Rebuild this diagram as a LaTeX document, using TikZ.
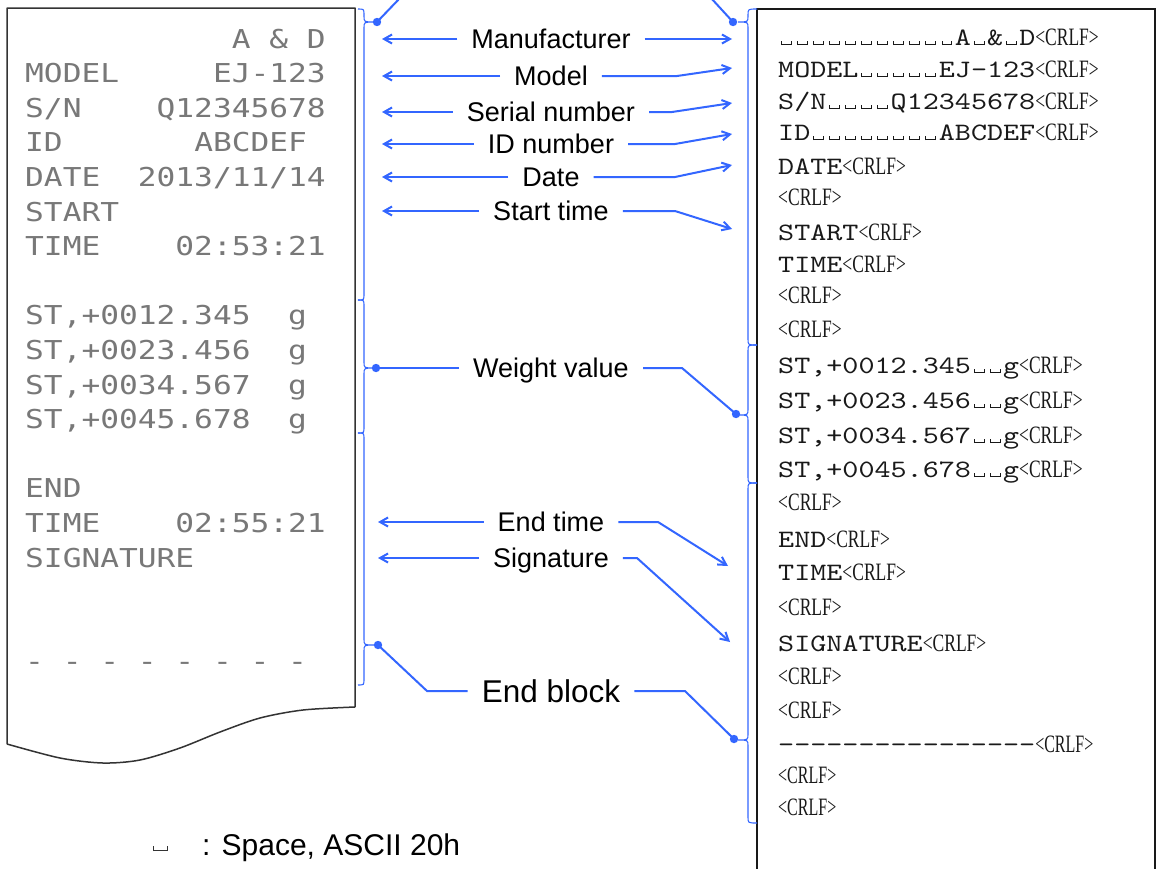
\documentclass[tikz,border=0pt]{standalone}
\usepackage{fontspec}
\setmainfont{Liberation Sans}
\newfontfamily\dotfont[FakeStretch=1.2]{DejaVu Sans Mono}
\newfontfamily\courfont[FakeStretch=1.224]{lmmono10-regular.otf}
\newfontfamily\crlffont[FakeStretch=0.70]{Liberation Serif}
\newfontfamily\crlfnfont[FakeStretch=0.64]{Liberation Serif}
\usetikzlibrary{arrows.meta,calc}
\definecolor{lblue}{RGB}{51,102,255}
\definecolor{papergray}{RGB}{120,120,120}
\definecolor{textdark}{RGB}{25,25,25}
\newcommand\spbox{\makebox[16.07pt][c]{\rule{0.9pt}{4.5pt}\rule{9pt}{0.9pt}\rule{0.9pt}{4.5pt}}}
\newcommand\crlf{{\crlffont\fontsize{25}{25}\selectfont<CRLF>}}
\newcommand\crlfn{{\crlfnfont\fontsize{25}{25}\selectfont<CRLF>}}
\newcommand\cbrace[6]{\draw[bracestyle] (#1,#4) .. controls (#2,#4) .. (#2,{#4+6}) -- (#2,{#5-6}) .. controls (#2,#5) .. (#3,#5) .. controls (#2,#5) .. (#2,{#5+6}) -- (#2,{#6-6}) .. controls (#2,#6) .. (#1,#6);}
\tikzset{
  ptext/.style={anchor=base west, inner sep=0pt, font=\dotfont\fontsize{26}{26}\selectfont, text=papergray},
  rtext/.style={anchor=base west, inner sep=0pt, font=\courfont\fontsize{25}{25}\selectfont, text=textdark},
  lab/.style={font=\fontsize{27}{27}\selectfont, text height=19.4pt, text depth=0pt, inner xsep=14pt, inner ysep=0pt},
  labbig/.style={font=\fontsize{31.5}{31.5}\selectfont, text height=22.6pt, text depth=0pt, inner xsep=14pt, inner ysep=0pt},
  arr/.style={lblue, line width=2pt, -{Straight Barb[length=8pt,width=9pt]}},
  lnk/.style={lblue, line width=2pt},
  bracestyle/.style={lblue, line width=1.1pt},
  dotm/.style={fill=lblue, draw=none},
  paperedge/.style={draw=black!80, line width=1.5pt, line join=round}
}
\begin{document}
\begin{tikzpicture}[x=1pt,y=-1pt]
\useasboundingbox (0,0) rectangle (1156,868);
\clip (0,0) rectangle (1156,868);
\fill[white] (0,0) rectangle (1156,868);

% paper
\draw[paperedge] (355,707) -- (355,8) -- (7,8) -- (7,744)
  plot[smooth] coordinates {(7,744) (60,758) (103,763) (140,760) (180,748) (220,732) (260,718) (303,710) (355,707)};

\node[ptext] (p0) at (25,48) {~~~~~~~~~~~A~\&~D};
\node[ptext] (p1) at (25,82.6) {MODEL~~~~~EJ-123};
\node[ptext] (p2) at (25,117.2) {S/N~~~~Q12345678};
\node[ptext] (p3) at (25,151.8) {ID~~~~~~~ABCDEF};
\node[ptext] (p4) at (25,186.4) {DATE~~2013/11/14};
\node[ptext] (p5) at (25,221) {START};
\node[ptext] (p6) at (25,255.6) {TIME~~~~02:53:21};
\node[ptext] (p8) at (25,324.8) {ST,+0012.345~~g};
\node[ptext] (p9) at (25,359.4) {ST,+0023.456~~g};
\node[ptext] (p10) at (25,394) {ST,+0034.567~~g};
\node[ptext] (p11) at (25,428.6) {ST,+0045.678~~g};
\node[ptext] (p13) at (25,497.8) {END};
\node[ptext] (p14) at (25,532.4) {TIME~~~~02:55:21};
\node[ptext] (p15) at (25,567) {SIGNATURE};
\node[ptext] (p18) at (25,670.8) {-~-~-~-~-~-~-~-};

% right panel
\draw[black!90, line width=1.5pt] (757,880) -- (757,9) -- (1155,9) -- (1155,880);
\node[rtext] (r0) at (778,45) {\spbox\spbox\spbox\spbox\spbox\spbox\spbox\spbox\spbox\spbox\spbox A\spbox\&\spbox D\crlf};
\node[rtext] (r1) at (778,77) {MODEL\spbox\spbox\spbox\spbox\spbox EJ-123\crlf};
\node[rtext] (r2) at (778,109) {S/N\spbox\spbox\spbox\spbox Q12345678\crlf};
\node[rtext] (r3) at (778,140) {ID\spbox\spbox\spbox\spbox\spbox\spbox\spbox\spbox ABCDEF\crlf};
\node[rtext] (r4) at (778,174) {DATE\crlf};
\node[rtext] (r5) at (778,205) {\crlf};
\node[rtext] (r6) at (778,240) {START\crlf};
\node[rtext] (r7) at (778,272) {TIME\crlf};
\node[rtext] (r8) at (778,303) {\crlf};
\node[rtext] (r9) at (778,337) {\crlf};
\node[rtext] (r10) at (778,373) {ST,+0012.345\spbox\spbox g\crlf};
\node[rtext] (r11) at (778,408) {ST,+0023.456\spbox\spbox g\crlf};
\node[rtext] (r12) at (778,443) {ST,+0034.567\spbox\spbox g\crlf};
\node[rtext] (r13) at (778,477) {ST,+0045.678\spbox\spbox g\crlf};
\node[rtext] (r14) at (778,510) {\crlf};
\node[rtext] (r15) at (778,547) {END\crlf};
\node[rtext] (r16) at (778,580) {TIME\crlf};
\node[rtext] (r17) at (778,615) {\crlf};
\node[rtext] (r18) at (778,651) {SIGNATURE\crlf};
\node[rtext] (r19) at (778,684) {\crlf};
\node[rtext] (r20) at (778,718) {\crlf};
\node[rtext] (r21) at (778,752) {----------------\crlfn};
\node[rtext] (r22) at (778,783) {\crlfn};
\node[rtext] (r23) at (778,815) {\crlfn};

% braces
\cbrace{358}{364}{374}{9}{22}{300}
\cbrace{358}{364}{374}{300}{368}{433}
\cbrace{358}{364}{374}{433}{645}{685}
\cbrace{757}{748}{738}{9}{22}{345}
\cbrace{757}{748}{738}{345}{415}{483}
\cbrace{757}{748}{738}{483}{740}{823}

% labels
\node[lab] (lman) at (551,39) {Manufacturer};
\node[lab] (lmod) at (551,76) {Model};
\node[lab] (lser) at (551,112) {Serial number};
\node[lab] (lid) at (551,144) {ID number};
\node[lab] (ldate) at (551,177) {Date};
\node[lab] (lstart) at (551,211) {Start time};
\node[lab] (lwt) at (551,368) {Weight value};
\node[lab] (lend) at (551,522) {End time};
\node[lab] (lsig) at (551,558) {Signature};
\node[labbig] (lblk) at (551,691) {End block};

% coordinates
\coordinate (dTL) at (377,22);
\coordinate (dTR) at (733,22);
\coordinate (upL) at (400,-2);
\coordinate (upR) at (711,-2);
\coordinate (dWL) at (376,368);
\coordinate (dWR) at (736,414);
\coordinate (dEL) at (378,645);
\coordinate (dER) at (734,739);

\coordinate (tman) at (382,39);
\coordinate (tmod) at (382,76);
\coordinate (tser) at (382,112);
\coordinate (tid) at (382,144);
\coordinate (tdate) at (382,177);
\coordinate (tstart) at (382,211);
\coordinate (tend) at (378,522);
\coordinate (tsig) at (378,558);

\coordinate (sman) at (732,39);
\coordinate (smod) at (732,68);
\coordinate (sser) at (732,103);
\coordinate (sid) at (732,134);
\coordinate (sdate) at (732,165);
\coordinate (sstart) at (732,229);
\coordinate (send) at (728,566);
\coordinate (ssig) at (730,642);

% top lines
\draw[lnk] (dTL) -- (upL);
\draw[lnk] (dTR) -- (upR);

% left arrows
\draw[arr] (lman.west) -- (tman);
\draw[arr] (lmod.west) -- (tmod);
\draw[arr] (lser.west) -- (tser);
\draw[arr] (lid.west) -- (tid);
\draw[arr] (ldate.west) -- (tdate);
\draw[arr] (lstart.west) -- (tstart);
\draw[arr] (lend.west) -- (tend);
\draw[arr] (lsig.west) -- (tsig);
\draw[lnk] (lwt.west) -- (dWL);
\draw[lnk] (lblk.west) -- (427,691) -- (dEL);

% right arrows
\draw[arr] (lman.east) -- (sman);
\draw[arr] (lmod.east) -- (677,76) -- (smod);
\draw[arr] (lser.east) -- (672,112) -- (sser);
\draw[arr] (lid.east) -- (675,144) -- (sid);
\draw[arr] (ldate.east) -- (675,177) -- (sdate);
\draw[arr] (lstart.east) -- (675,211) -- (sstart);
\draw[arr] (lend.east) -- (658,522) -- (send);
\draw[arr] (lsig.east) -- (637,558) -- (ssig);
\draw[lnk] (lwt.east) -- (682,368) -- (dWR);
\draw[lnk] (lblk.east) -- (685,691) -- (dER);

% dots
\foreach \d in {dTL,dTR,dWL,dWR,dEL,dER} \fill[dotm] (\d) circle (4.2);

% legend
\node[anchor=base west, inner sep=0pt, text=black!80] (lgsp) at (153,851) {\rule{1pt}{5pt}\rule{13pt}{1pt}\rule{1pt}{5pt}};
\node[anchor=base west, inner sep=0pt, font=\fontsize{30}{30}\selectfont] (lgtx) at (202,855) {: Space, ASCII 20h};
\end{tikzpicture}
\end{document}
